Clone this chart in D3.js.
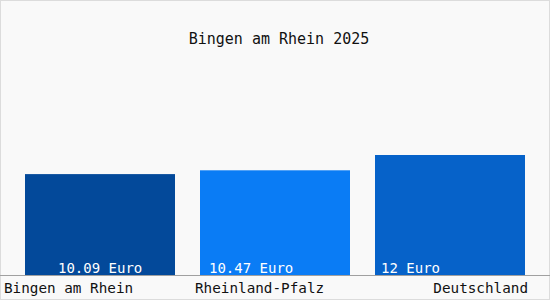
<!DOCTYPE html>
<html><head><meta charset="utf-8">
<script src="https://cdn.jsdelivr.net/npm/d3@7"></script>
<style>html,body{margin:0;padding:0;background:#fff}</style>
</head><body>
<script>
const title = "Bingen am Rhein 2025";
const categories = ["Bingen am Rhein", "Rheinland-Pfalz", "Deutschland"];
const values = [10.09, 10.47, 12];
const valueLabels = ["10.09 Euro", "10.47 Euro", "12 Euro"];
const colors = ["#03499a", "#0a7cf5", "#0662c9"];

const W = 550, H = 300;
const svg = d3.select("body").append("svg").attr("width", W).attr("height", H);
svg.append("rect").attr("x", 0.5).attr("y", 0.5).attr("width", W - 1).attr("height", H - 1)
  .attr("fill", "#f9f9f9").attr("stroke", "#dcdcdc");

const baseY = 275;
const x = d3.scaleBand().domain(categories).range([0, W]).paddingInner(1/7).paddingOuter(1/7);
const y = d3.scaleLinear().domain([0, 20]).range([baseY, baseY - 200]);

const font = "'DejaVu Sans Mono', monospace";

svg.append("text").attr("x", 279).attr("y", 44).attr("text-anchor", "middle")
  .attr("font-family", font).attr("font-size", 15).attr("fill", "#111").text(title);

svg.selectAll("rect.bar").data(values).join("rect").attr("class", "bar")
  .attr("x", (d, i) => x(categories[i]))
  .attr("width", x.bandwidth())
  .attr("y", d => y(d)).attr("height", d => baseY - y(d))
  .attr("fill", (d, i) => colors[i]);

const labelOff = [33, 9, 6];
svg.selectAll("text.val").data(valueLabels).join("text").attr("class", "val")
  .attr("x", (d, i) => x(categories[i]) + labelOff[i]).attr("y", 273)
  .attr("font-family", font).attr("font-size", 14).attr("fill", "#fff").text(d => d);

svg.append("line").attr("x1", 0).attr("x2", W).attr("y1", baseY + 0.5).attr("y2", baseY + 0.5)
  .attr("stroke", "#a0a0a0");

const catX = [4, 195, 528];
const catAnchor = ["start", "start", "end"];
svg.selectAll("text.cat").data(categories).join("text").attr("class", "cat")
  .attr("x", (d, i) => catX[i]).attr("y", 293).attr("text-anchor", (d, i) => catAnchor[i])
  .attr("font-family", font).attr("font-size", 14.3).attr("fill", "#111").text(d => d);
</script>
</body></html>
